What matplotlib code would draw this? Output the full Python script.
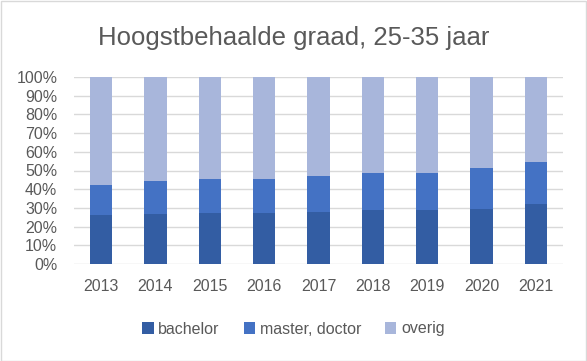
import matplotlib
matplotlib.use("Agg")
import matplotlib.pyplot as plt
from matplotlib.patches import Rectangle
import numpy as np

years = ["2013", "2014", "2015", "2016", "2017", "2018", "2019", "2020", "2021"]
bachelor = [26.4, 26.9, 27.5, 27.5, 28.0, 29.1, 29.1, 29.6, 32.3]
master_doctor = [15.6, 17.3, 17.7, 17.7, 18.9, 19.4, 19.4, 21.6, 22.1]
overig = [100 - b - m for b, m in zip(bachelor, master_doctor)]
series_names = ["bachelor", "master, doctor", "overig"]
colors = ["#335DA3", "#4472C4", "#A8B6DB"]

plt.rcParams['font.family'] = ['Liberation Sans', 'DejaVu Sans']

fig = plt.figure(figsize=(5.87, 3.61), dpi=100)
ax = fig.add_axes([74/587, 1-264/361, (563-74)/587, (264-77)/361])

x = np.arange(len(years))
w = 0.41
bottom = np.zeros(len(years))
for vals, name, c in zip([bachelor, master_doctor, overig], series_names, colors):
    ax.bar(x, vals, w, bottom=bottom, color=c, label=name, zorder=3)
    bottom += np.array(vals)

ax.set_xlim(-0.5, len(years) - 0.5)
ax.set_ylim(0, 100)
ax.set_yticks(np.arange(0, 101, 10))
ax.set_yticklabels([f"{v}%" for v in range(0, 101, 10)])
ax.set_xticks(x)
ax.set_xticklabels(years)
ax.grid(axis='y', color='#D9D9D9', linewidth=1, zorder=0)
for s in ax.spines.values():
    s.set_visible(False)
ax.tick_params(axis='both', length=0, labelsize=11.5, colors='#595959')
ax.tick_params(axis='x', pad=11)
ax.tick_params(axis='y', pad=12)

fig.text(0.5, 1-38/361, "Hoogstbehaalde graad, 25-35 jaar", ha='center', va='center',
         fontsize=18.5, color='#595959')

leg = fig.legend(loc='center', bbox_to_anchor=(0.5, 1-329/361), ncol=3, frameon=False,
                 fontsize=11.5, handlelength=0.7, handleheight=0.7, columnspacing=1.5,
                 handletextpad=0.3)
for t in leg.get_texts():
    t.set_color('#595959')

fig.patches.append(Rectangle((0.5/587, 0.5/361), 1-1.5/587, 1-1.5/361, transform=fig.transFigure,
                             fill=False, edgecolor='#D9D9D9', linewidth=1))

fig.savefig("out.png", dpi=100)
